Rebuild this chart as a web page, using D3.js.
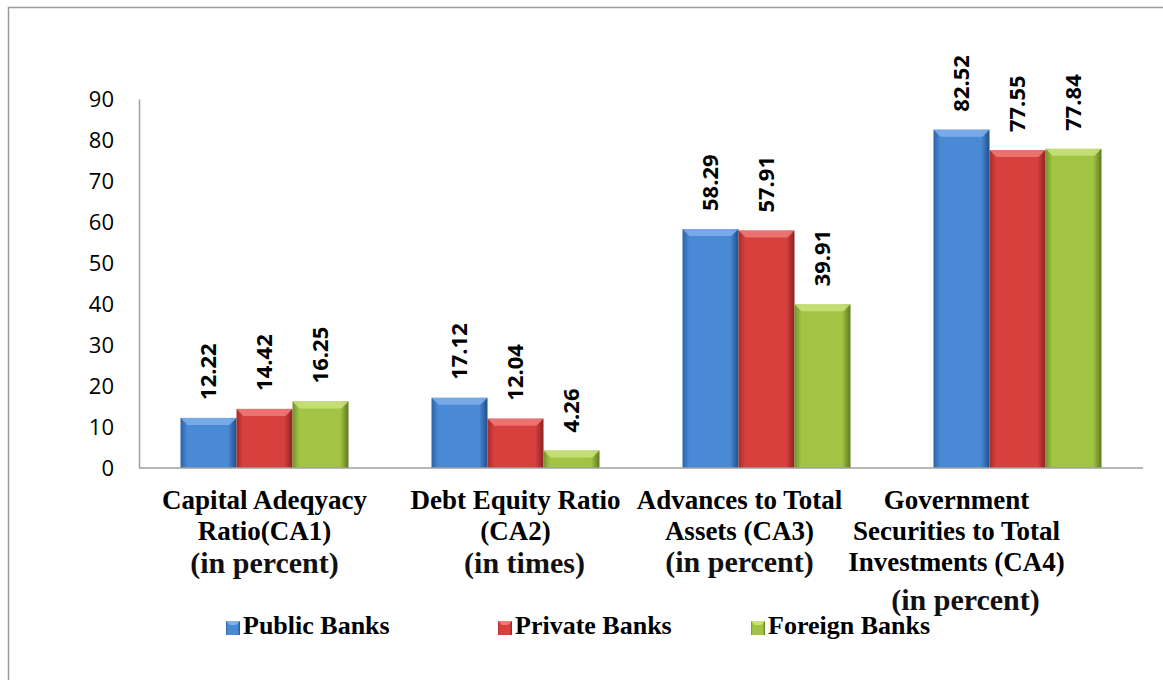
<!DOCTYPE html>
<html>
<head>
<meta charset="utf-8">
<script src="https://cdn.jsdelivr.net/npm/d3@7"></script>
<style>
  body { margin: 0; background: #fff; }
  svg { display: block; }
</style>
</head>
<body>
<div id="chart"></div>
<script>
var categories = ["CA1", "CA2", "CA3", "CA4"];
var categoryLines = [
    ["Capital Adeqyacy", "Ratio(CA1)"],
    ["Debt Equity Ratio", "(CA2)"],
    ["Advances to Total", "Assets (CA3)"],
    ["Government", "Securities to Total", "Investments (CA4)"]
];
var unitLines = ["(in percent)", "(in times)", "(in percent)", "(in percent)"];
var series = ["Public Banks", "Private Banks", "Foreign Banks"];
var publicBanks = [12.22, 17.12, 58.29, 82.52];
var privateBanks = [14.42, 12.04, 57.91, 77.55];
var foreignBanks = [16.25, 4.26, 39.91, 77.84];
var yTicks = [0, 10, 20, 30, 40, 50, 60, 70, 80, 90];

var values = [publicBanks, privateBanks, foreignBanks];
var colors = [
    {mid: "#4a89d4", edge: "#2c62a6", top: "#7fb0ea", dark: "#1f4f8c"},
    {mid: "#d8403e", edge: "#a82b2b", top: "#ee7b78", dark: "#8c2222"},
    {mid: "#a2c444", edge: "#72922a", top: "#c9e37c", dark: "#5d7a1e"}
];

var width = 1163, height = 680;
var svg = d3.select("#chart").append("svg")
    .attr("width", width)
    .attr("height", height);

// frame
svg.append("rect")
    .attr("x", 8.5).attr("y", 7.5)
    .attr("width", 1170).attr("height", 700)
    .attr("fill", "none")
    .attr("stroke", "#9a9a9a")
    .attr("stroke-width", 1.5);

var defs = svg.append("defs");
colors.forEach(function (c, i) {
    var g = defs.append("linearGradient").attr("id", "grad" + i)
        .attr("x1", 0).attr("x2", 1).attr("y1", 0).attr("y2", 0);
    g.append("stop").attr("offset", "0%").attr("stop-color", c.edge);
    g.append("stop").attr("offset", "12%").attr("stop-color", c.mid);
    g.append("stop").attr("offset", "85%").attr("stop-color", c.mid);
    g.append("stop").attr("offset", "100%").attr("stop-color", c.dark);
});

var x0 = d3.scaleBand().domain(categories).range([139, 1143]);
var x1 = d3.scaleBand().domain(series).range([41.5, x0.bandwidth() - 41.5]);
var y = d3.scaleLinear().domain([0, 90]).range([468, 99]);

// y axis
var yAxis = d3.axisLeft(y).tickValues(yTicks).tickSize(0).tickPadding(25);
var yg = svg.append("g")
    .attr("transform", "translate(139,0)")
    .call(yAxis);
yg.select(".domain").attr("stroke", "#a0a0a0").attr("stroke-width", 1.5);
yg.selectAll("text")
    .attr("font-family", "Open Sans")
    .attr("font-size", 22)
    .attr("fill", "#000");

// bars
var groups = svg.selectAll("g.cat")
    .data(categories).enter().append("g")
    .attr("class", "cat")
    .attr("transform", d => "translate(" + x0(d) + ",0)");

groups.each(function (cat, ci) {
    var g = d3.select(this);
    series.forEach(function (s, si) {
        var v = values[si][ci];
        var bx = x1(s), bw = x1.bandwidth();
        var by = y(v), bh = y(0) - y(v);
        var c = colors[si];
        g.append("rect")
            .attr("x", bx).attr("y", by)
            .attr("width", bw).attr("height", bh)
            .attr("fill", "url(#grad" + si + ")");
        var bev = Math.min(7, bh / 2);
        g.append("path")
            .attr("d", "M" + bx + "," + by + "L" + (bx + bw) + "," + by +
                "L" + (bx + bw - bev) + "," + (by + bev) + "L" + (bx + bev) + "," + (by + bev) + "Z")
            .attr("fill", c.top)
            .attr("opacity", 0.85);
        g.append("text")
            .attr("transform", "translate(" + (bx + bw / 2) + "," + (by - 18) + ") rotate(-90)")
            .attr("dy", "0.35em")
            .attr("font-family", "Open Sans")
            .attr("font-weight", "bold")
            .attr("font-size", 22)
            .attr("fill", "#000")
            .text(v.toFixed(2));
    });
});

// x baseline
svg.append("line")
    .attr("x1", 139).attr("x2", 1143)
    .attr("y1", y(0)).attr("y2", y(0))
    .attr("stroke", "#a0a0a0").attr("stroke-width", 1.5);

// category labels
var labelShift = [0, 0, -27, -61];
var unitY = [573, 573, 572, 610];
var unitShift = [0, 9, -27, -52];
categories.forEach(function (cat, ci) {
    var cx = x0(cat) + x0.bandwidth() / 2;
    var t = svg.append("text")
        .attr("text-anchor", "middle")
        .attr("font-family", "Liberation Serif")
        .attr("font-weight", "bold")
        .attr("font-size", 27)
        .attr("fill", "#000");
    categoryLines[ci].forEach(function (line, li) {
        t.append("tspan")
            .attr("x", cx + labelShift[ci])
            .attr("y", 509 + li * 31)
            .text(line);
    });
    svg.append("text")
        .attr("x", cx + unitShift[ci])
        .attr("y", unitY[ci])
        .attr("text-anchor", "middle")
        .attr("font-family", "Liberation Serif")
        .attr("font-weight", "bold")
        .attr("font-size", 30)
        .attr("fill", "#111")
        .text(unitLines[ci]);
});

// legend
var legendX = [226, 498, 751];
var legend = svg.selectAll("g.legend")
    .data(series).enter().append("g")
    .attr("class", "legend")
    .attr("transform", (d, i) => "translate(" + legendX[i] + ",621)");
legend.append("rect")
    .attr("width", 14).attr("height", 14)
    .attr("fill", (d, i) => "url(#grad" + i + ")");
legend.append("path")
    .attr("d", "M0,0L14,0L10,4L4,4Z")
    .attr("fill", (d, i) => colors[i].top);
legend.append("text")
    .attr("x", 17).attr("y", 13)
    .attr("font-family", "Liberation Serif")
    .attr("font-weight", "bold")
    .attr("font-size", 26)
    .attr("fill", "#000")
    .text(d => d);
</script>
</body>
</html>
